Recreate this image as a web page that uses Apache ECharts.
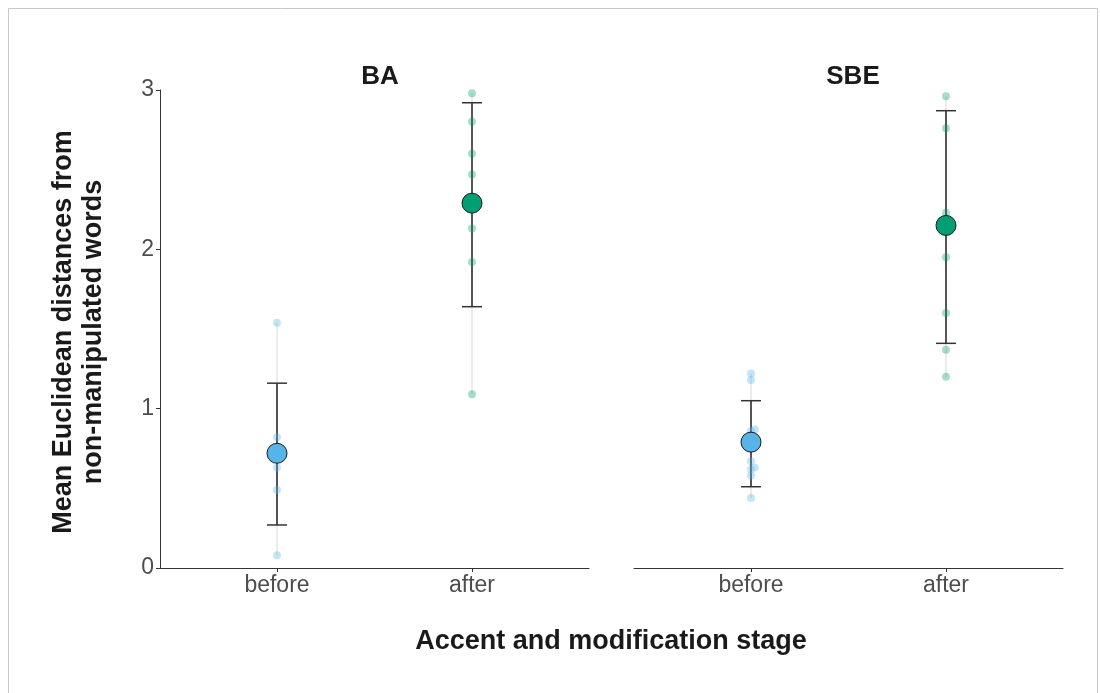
<!DOCTYPE html>
<html>
<head>
<meta charset="utf-8">
<script src="https://cdn.jsdelivr.net/npm/echarts@6/dist/echarts.min.js"></script>
<style>
  html, body { margin: 0; padding: 0; background: #fff; }
  #chart { width: 1100px; height: 693px; }
</style>
</head>
<body>
<div id="chart"></div>
<script>
  // stage labels on the x axis (1 = before, 2 = after)
  const stages = ['before', 'after'];
  const panels = ['BA', 'SBE'];
  const yTicks = [0, 1, 2, 3];

  // individual word distances, [stage, value]
  const baBefore = [[1, 1.54], [1, 0.82], [1, 0.63], [1, 0.49], [1, 0.08]];
  const baAfter = [[2, 2.98], [2, 2.80], [2, 2.60], [2, 2.47], [2, 2.13], [2, 1.92], [2, 1.09]];
  const sbeBefore = [[1, 1.22], [1, 1.18], [1.02, 0.87], [1, 0.86], [1, 0.67], [1.02, 0.63], [1, 0.62], [1, 0.58], [1, 0.44]];
  const sbeAfter = [[2, 2.96], [2, 2.76], [2, 2.23], [2, 1.95], [2, 1.60], [2, 1.37], [2, 1.20]];

  // group means and error bar limits: [stage, mean, low, high]
  const baSummary = [[1, 0.72, 0.27, 1.16], [2, 2.29, 1.64, 2.92]];
  const sbeSummary = [[1, 0.79, 0.51, 1.05], [2, 2.15, 1.41, 2.87]];

  const blue = '#56B4E9';
  const green = '#009E73';
  const hexToRgba = (hex, a) => {
    const r = parseInt(hex.slice(1, 3), 16), g = parseInt(hex.slice(3, 5), 16), b = parseInt(hex.slice(5, 7), 16);
    return `rgba(${r},${g},${b},${a})`;
  };

  const rangeLine = (pts) => {
    const vals = pts.map(d => d[1]);
    const x = pts[0][0] < 1.5 ? 1 : 2;
    return [[x, Math.min(...vals)], [x, Math.max(...vals)]];
  };

  const panelSeries = (idx, before, after, summary) => {
    const out = [];
    [before, after].forEach(pts => {
      out.push({
        type: 'line', xAxisIndex: idx, yAxisIndex: idx,
        data: rangeLine(pts), symbol: 'none', silent: true, z: 1,
        lineStyle: { color: 'rgba(200,200,200,0.35)', width: 2 }
      });
    });
    out.push({
      type: 'custom', xAxisIndex: idx, yAxisIndex: idx, z: 2,
      data: summary.map(d => [d[0], d[2], d[3]]),
      renderItem: (params, api) => {
        const x = api.value(0);
        const lo = api.coord([x, api.value(1)]);
        const hi = api.coord([x, api.value(2)]);
        const cap = 10;
        const style = { stroke: '#333', lineWidth: 1.5 };
        return {
          type: 'group',
          children: [
            { type: 'line', shape: { x1: lo[0], y1: lo[1], x2: hi[0], y2: hi[1] }, style: { stroke: '#555', lineWidth: 2 } },
            { type: 'line', shape: { x1: lo[0] - cap, y1: lo[1], x2: lo[0] + cap, y2: lo[1] }, style },
            { type: 'line', shape: { x1: hi[0] - cap, y1: hi[1], x2: hi[0] + cap, y2: hi[1] }, style }
          ]
        };
      }
    });
    out.push({
      type: 'scatter', xAxisIndex: idx, yAxisIndex: idx, z: 3,
      data: before, symbolSize: 8,
      itemStyle: { color: hexToRgba(blue, 0.35), opacity: 1 }
    });
    out.push({
      type: 'scatter', xAxisIndex: idx, yAxisIndex: idx, z: 3,
      data: after, symbolSize: 8,
      itemStyle: { color: hexToRgba(green, 0.35), opacity: 1 }
    });
    out.push({
      type: 'scatter', xAxisIndex: idx, yAxisIndex: idx, z: 4,
      data: summary.map(d => ({ value: [d[0], d[1]], itemStyle: { color: d[0] === 1 ? blue : green } })),
      symbolSize: 20,
      itemStyle: { borderColor: '#1a1a1a', borderWidth: 1, opacity: 1 }
    });
    return out;
  };

  const xAxisFor = (gi) => ({
    type: 'value', gridIndex: gi, min: 0.4, max: 2.6,
    axisLine: { show: true, lineStyle: { color: '#333', width: 1 } },
    axisTick: { show: true, customValues: [1, 2], length: 4, lineStyle: { color: '#333' } },
    axisLabel: {
      customValues: [1, 2], formatter: v => stages[Math.round(v) - 1],
      fontSize: 23, color: '#4d4d4d', fontFamily: 'Liberation Sans', margin: 6
    },
    splitLine: { show: false }
  });

  const yAxisFor = (gi, visible) => ({
    type: 'value', gridIndex: gi, min: 0, max: 3, interval: 1,
    axisLine: { show: visible, lineStyle: { color: '#333', width: 1 } },
    axisTick: { show: visible, length: 4, lineStyle: { color: '#333' } },
    axisLabel: {
      show: visible, fontSize: 23, color: '#4d4d4d', fontFamily: 'Liberation Sans', margin: 6,
      formatter: v => yTicks.includes(v) ? String(v) : ''
    },
    splitLine: { show: false }
  });

  const titleStyle = { fontSize: 26, fontWeight: 'bold', color: '#1a1a1a', fontFamily: 'Liberation Sans' };

  const option = {
    backgroundColor: '#fff',
    animation: false,
    title: [
      { text: panels[0], left: 375, top: 59, textAlign: 'center', textStyle: titleStyle },
      { text: panels[1], left: 848, top: 59, textAlign: 'center', textStyle: titleStyle }
    ],
    grid: [
      { left: 160, top: 90, width: 429, height: 478 },
      { left: 634, top: 90, width: 429, height: 478 }
    ],
    xAxis: [xAxisFor(0), xAxisFor(1)],
    yAxis: [yAxisFor(0, true), yAxisFor(1, false)],
    graphic: [
      {
        type: 'rect', silent: true,
        shape: { x: 8.5, y: 8.5, width: 1089, height: 700 },
        style: { fill: 'none', stroke: '#c8c8c8', lineWidth: 1 }
      },
      {
        type: 'text', x: 79, y: 332, rotation: Math.PI / 2,
        style: {
          text: 'Mean Euclidean distances from\nnon-manipulated words',
          font: 'bold 27px "Liberation Sans"', fill: '#1a1a1a',
          textAlign: 'center', textVerticalAlign: 'middle', lineHeight: 30
        }
      },
      {
        type: 'text', x: 611, y: 642,
        style: {
          text: 'Accent and modification stage',
          font: 'bold 27px "Liberation Sans"', fill: '#1a1a1a',
          textAlign: 'center', textVerticalAlign: 'middle'
        }
      }
    ],
    series: [
      ...panelSeries(0, baBefore, baAfter, baSummary),
      ...panelSeries(1, sbeBefore, sbeAfter, sbeSummary)
    ]
  };

  const chart = echarts.init(document.getElementById('chart'));
  chart.setOption(option);
</script>
</body>
</html>
